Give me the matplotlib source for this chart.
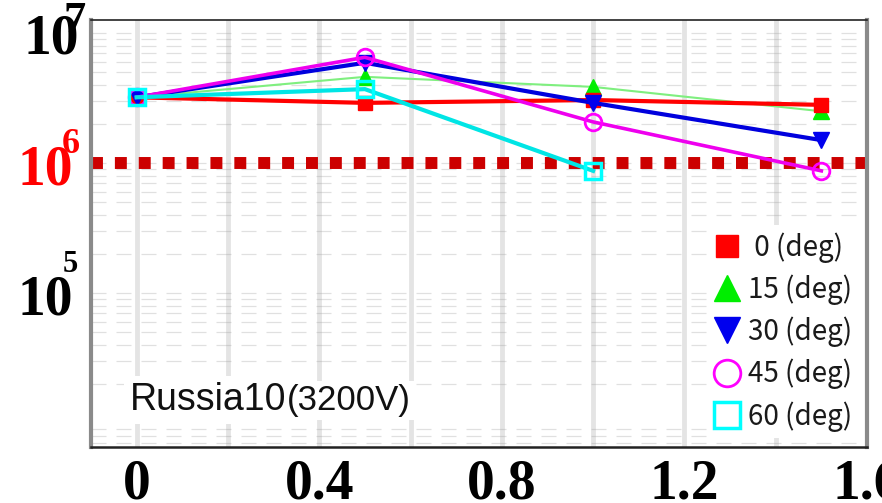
import matplotlib
matplotlib.use("Agg")
import matplotlib.pyplot as plt
import matplotlib.transforms as mtransforms
from matplotlib.ticker import LogLocator, NullFormatter
import numpy as np

# Data: lifetime-like values vs. x for five tilt angles
x_full = [0.0, 0.5, 1.0, 1.5]
x_60 = [0.0, 0.5, 1.0]
deg0 = [3.2e6, 2.9e6, 3.05e6, 2.8e6]
deg15 = [3.2e6, 4.6e6, 3.85e6, 2.5e6]
deg30 = [3.2e6, 5.9e6, 2.9e6, 1.5e6]
deg45 = [3.2e6, 6.5e6, 2.07e6, 8.7e5]
deg60 = [3.2e6, 3.7e6, 8.7e5]
series_labels = [" 0 (deg)", "15 (deg)", "30 (deg)", "45 (deg)", "60 (deg)"]
threshold = 1e6
x_ticks = [0, 0.4, 0.8, 1.2, 1.6]
x_tick_labels = ["0", "0.4", "0.8", "1.2", "1.6"]
y_decades = [1e7, 1e6, 1e5]
y_exponents = ["7", "6", "5"]

W, H, DPI = 882, 503, 100
fig = plt.figure(figsize=(W / DPI, H / DPI), dpi=DPI)
L, R, T, B = 91, 867, 20, 447
ax = fig.add_axes([L / W, 1 - B / H, (R - L) / W, (B - T) / H])

ax.set_yscale("log")
ax.set_xlim(-0.1, 1.6)
ax.set_ylim(10 ** 3.815, 10 ** 7.1)

# faint background grid
for xv in np.arange(0, 1.41, 0.2):
    ax.axvline(xv, color="#bdbdbd", lw=3.5, alpha=0.4, zorder=0)
ax.yaxis.set_minor_locator(LogLocator(base=10, subs=np.arange(2, 10), numticks=20))
ax.yaxis.set_minor_formatter(NullFormatter())
ax.grid(True, which="both", axis="y", color="#9a9a9a", lw=0.9,
        linestyle=(0, (12, 8)), alpha=0.3, zorder=0)

# threshold line
ax.axhline(threshold, color="#cc0000", lw=8.6, linestyle=(0, (1, 1)),
           dash_capstyle="butt", zorder=2, clip_on=False)

ms = 12
ax.plot(x_full, deg15, color="#7fef7f", lw=1.5, marker="^", ms=ms,
        mfc="#00ee00", mec="#00ee00", label=series_labels[1], zorder=3)
ax.plot(x_full, deg0, color="#ff0000", lw=3.0, marker="s", ms=ms - 2,
        mfc="#ff0000", mec="#ff0000", label=series_labels[0], zorder=4)
ax.plot(x_full, deg30, color="#0000dd", lw=3.0, marker="v", ms=ms,
        mfc="#0000ee", mec="#0000ee", label=series_labels[2], zorder=5)
ax.plot(x_full, deg45, color="#ee00ee", lw=2.6, marker="o", ms=ms,
        mfc="none", mec="#ff00ff", mew=2, label=series_labels[3], zorder=6)
ax.plot(x_60, deg60, color="#00e5e5", lw=3.0, marker="s", ms=ms,
        mfc="none", mec="#00ffff", mew=2.5, label=series_labels[4], zorder=7)

# spines
for side in ("left", "right"):
    ax.spines[side].set_color("#8a8a8a")
    ax.spines[side].set_linewidth(3)
ax.spines["top"].set_color("#222222")
ax.spines["top"].set_linewidth(1.2)
ax.spines["bottom"].set_color("#222222")
ax.spines["bottom"].set_linewidth(1.8)

# x ticks
ax.set_xticks(x_ticks)
ax.set_xticklabels(x_tick_labels, fontfamily="Liberation Serif",
                   fontweight="bold", fontsize=40)
ax.tick_params(axis="x", length=0, pad=8)
ax.set_yticks(y_decades)
ax.set_yticklabels([])
ax.tick_params(axis="y", which="both", length=0)

# y decade labels as base + raised exponent
trans = mtransforms.blended_transform_factory(fig.transFigure, ax.transData)
label_colors = ["black", "#ff0000", "black"]
base_x = [23, 17, 17]
exp_x = [63, 62, 63]
base_dy = [-7, -8, -8]
exp_dy = [12, 18, 28]
exp_size = [32, 26, 22]
for v, e, c, bx, ex, bdy, edy, es in zip(y_decades, y_exponents, label_colors,
                                          base_x, exp_x, base_dy, exp_dy, exp_size):
    t1 = trans + mtransforms.ScaledTranslation(0, bdy / DPI, fig.dpi_scale_trans)
    fig.text(bx / W, v, "10", transform=t1, ha="left", va="center",
             fontfamily="Liberation Serif", fontweight="bold", fontsize=40,
             color=c, clip_on=False)
    t2 = trans + mtransforms.ScaledTranslation(0, edy / DPI, fig.dpi_scale_trans)
    fig.text(ex / W, v, e, transform=t2, ha="left", va="center",
             fontfamily="Liberation Serif", fontweight="bold", fontsize=es,
             color=c, clip_on=False)

# sample name
ax.text(130 / W, 1 - 410 / H, "Russia10", transform=fig.transFigure,
        fontfamily="Liberation Sans", fontsize=27, ha="left", va="baseline",
        color="#111111", zorder=9,
        bbox=dict(facecolor="white", edgecolor="none", pad=4))
ax.text(287 / W, 1 - 410 / H, "(3200V)", transform=fig.transFigure,
        fontfamily="Liberation Sans", fontsize=25, ha="left", va="baseline",
        color="#111111", zorder=9,
        bbox=dict(facecolor="white", edgecolor="none", pad=2))

# legend in marker order 0,15,30,45,60
handles, labels = ax.get_legend_handles_labels()
order = [labels.index(s) for s in series_labels]
leg = ax.legend([handles[i] for i in order], [labels[i] for i in order],
                loc="lower right", bbox_to_anchor=(0.99, 0.02),
                borderaxespad=0, frameon=True, fancybox=False, framealpha=1,
                edgecolor="none", facecolor="white",
                prop={"family": ["Noto Sans CJK JP", "DejaVu Sans"], "size": 20},
                handlelength=1.0, handletextpad=0.25, labelspacing=0.42,
                markerscale=1.6, borderpad=0.25)
for line in leg.get_lines():
    line.set_linestyle("none")
for txt in leg.get_texts():
    txt.set_color("#1a1a1a")
leg.set_zorder(10)

fig.savefig("out.png", dpi=DPI)
